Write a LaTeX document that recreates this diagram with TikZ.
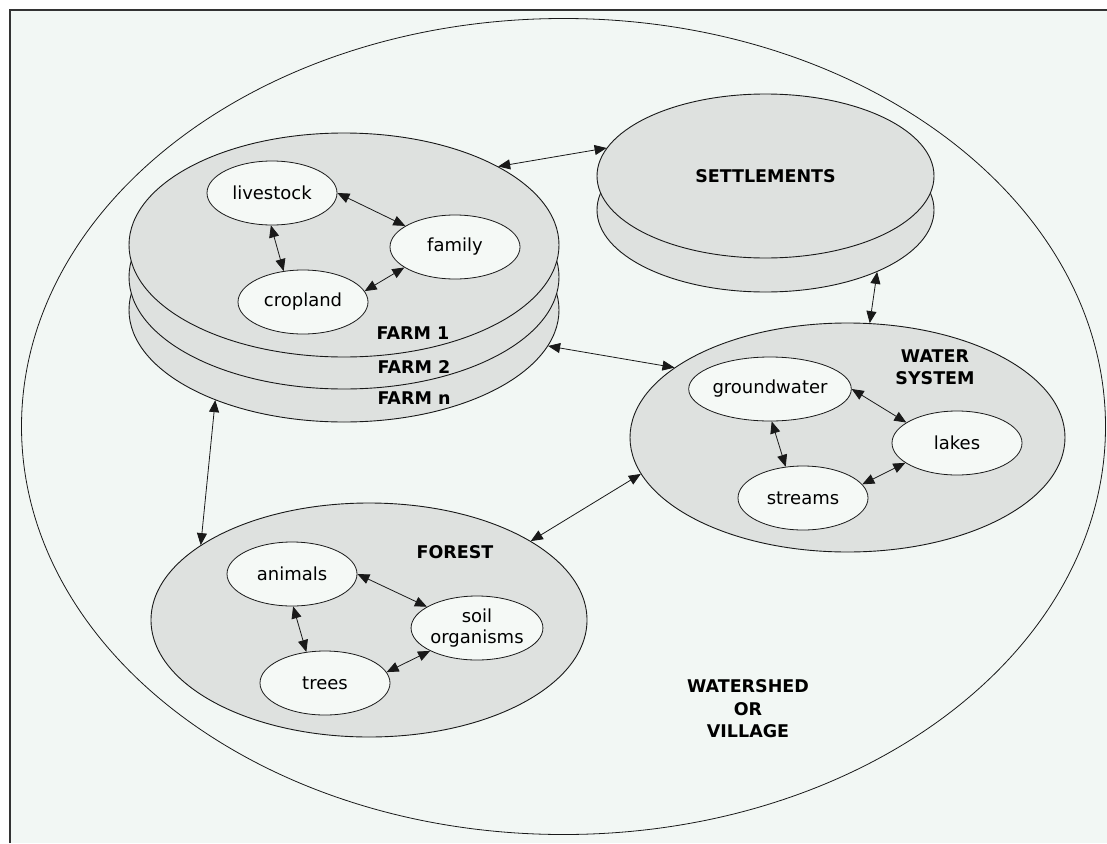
\documentclass[tikz,border=0pt]{standalone}
\usepackage{fontspec}
\setmainfont{DejaVu Sans}
\usetikzlibrary{shapes.geometric,arrows.meta}
\definecolor{bgc}{RGB}{242,247,244}
\definecolor{grayfill}{RGB}{222,225,223}
\definecolor{innerfill}{RGB}{245,249,246}
\definecolor{linec}{RGB}{25,25,25}
\begin{document}
\begin{tikzpicture}[x=1pt,y=-1pt,
  disc/.style={ellipse, draw=linec, fill=grayfill, line width=0.9pt, inner sep=0pt},
  item/.style={ellipse, draw=linec, fill=innerfill, line width=0.8pt, minimum width=130pt, minimum height=64pt, inner sep=0pt, font=\fontsize{18}{21}\selectfont, align=center},
  lbl/.style={font=\fontsize{17.5}{22.5}\selectfont\bfseries, align=center, inner sep=0pt},
  link/.style={{Triangle[length=12pt,width=10pt]}-{Triangle[length=12pt,width=10pt]}, line width=0.8pt, draw=linec}]
\useasboundingbox (0,0) rectangle (1107,843);
\fill[white] (0,0) rectangle (1107,843);
\fill[bgc] (10,10) rectangle (1107,843);
\draw[line width=1.6pt, draw=black!80] (10,843) -- (10,10) -- (1107,10);
% outer watershed
\node[ellipse, draw=linec, line width=0.8pt, minimum width=1084pt, minimum height=816pt, inner sep=0pt] (watershed) at (563.5,426.5) {};
% farm stack
\node[disc, minimum width=430pt, minimum height=224pt] (farmn) at (344,310) {};
\node[disc, minimum width=430pt, minimum height=224pt] (farm2) at (344,277) {};
\node[disc, minimum width=430pt, minimum height=224pt] (farm1) at (344,245) {};
\node[lbl] (farm1lbl) at (413,333) {FARM 1};
\node[lbl] (farm2lbl) at (414,367) {FARM 2};
\node[lbl] (farmnlbl) at (414,398) {FARM n};
% settlements
\node[disc, minimum width=337pt, minimum height=164pt] (settlow) at (765.5,210) {};
\node[disc, minimum width=337pt, minimum height=164pt, font=\fontsize{17.5}{22}\selectfont\bfseries] (settup) at (765.5,176) {SETTLEMENTS};
% water system
\node[disc, minimum width=435pt, minimum height=229pt] (water) at (847.5,437.5) {};
\node[lbl] (waterlbl) at (935,367) {WATER\\SYSTEM};
% forest
\node[disc, minimum width=436pt, minimum height=234pt] (forest) at (369,620) {};
\node[lbl] (forestlbl) at (455,552) {FOREST};
% watershed label
\node[lbl] (wslbl) at (748,709) {WATERSHED\\OR\\VILLAGE};
% farm items
\node[item] (livestock) at (272,193) {livestock};
\node[item] (family) at (455,247) {family};
\node[item] (cropland) at (303,302) {cropland};
% water items
\node[item] (groundwater) at (770,389) {groundwater};
\node[item] (lakes) at (957,443) {lakes};
\node[item] (streams) at (803,498) {streams};
% forest items
\node[item] (animals) at (292,574) {animals};
\node[item] (soil) at (477,628) {soil\\organisms};
\node[item] (trees) at (325,683) {trees};
% inner links
\draw[link] (livestock.0) -- (family.157);
\draw[link] (livestock.268) -- (cropland.122);
\draw[link] (family.202) -- (cropland.10);
\draw[link] (groundwater.0) -- (lakes.158);
\draw[link] (groundwater.273) -- (streams.119);
\draw[link] (lakes.201) -- (streams.13);
\draw[link] (animals.0) -- (soil.157);
\draw[link] (animals.272) -- (trees.121);
\draw[link] (soil.206) -- (trees.10);
% outer links
\draw[link] (farm1.27.6) -- (settup.170.7);
\draw[link] (settlow.331.6) -- (water.79);
\draw[link] (farmn.350.8) -- (water.158);
\draw[link] (farmn.215.5) -- (forest.156);
\draw[link] (forest.26) -- (water.190);
\end{tikzpicture}
\end{document}
